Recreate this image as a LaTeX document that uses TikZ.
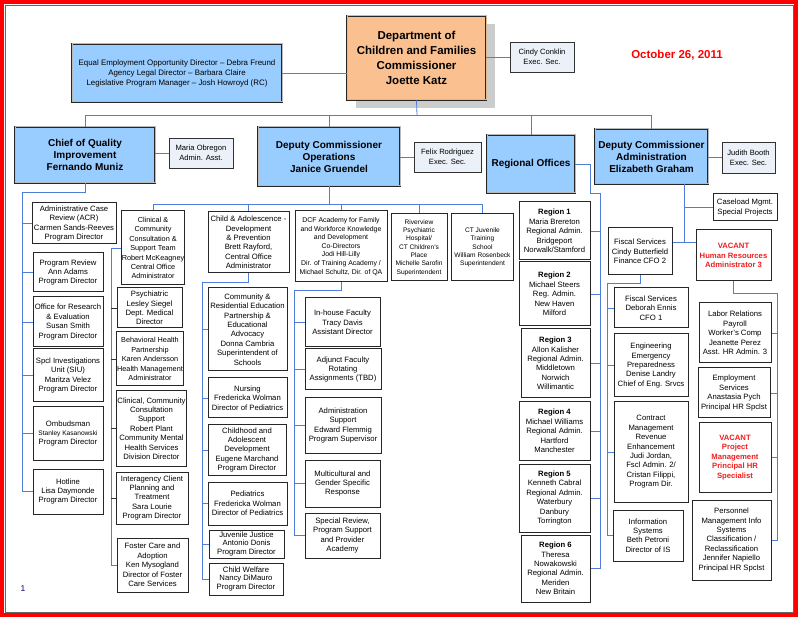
\documentclass[tikz,border=0pt]{standalone}
\usepackage{fontspec}
\setmainfont{Liberation Sans}
\usetikzlibrary{shadows}
\definecolor{hdblue}{RGB}{153,204,255}
\definecolor{peach}{RGB}{250,192,144}
\definecolor{secfill}{RGB}{236,240,248}
\definecolor{lnblue}{RGB}{80,125,215}
\definecolor{vacred}{RGB}{240,30,30}
\tikzset{
  hd/.style={draw=black!85, double=gray!55, double distance=1pt, line width=0.6pt, fill=hdblue, align=center, inner sep=1pt, font=\fontsize{10}{12}\selectfont\bfseries},
  sec/.style={draw=black!80, line width=0.8pt, fill=secfill, align=center, inner sep=1pt, font=\fontsize{7.6}{10}\selectfont},
  bx/.style={draw=black!85, line width=1pt, fill=white, align=center, inner sep=0.5pt, font=\fontsize{7.7}{9.4}\selectfont},
  vac/.style={text=vacred, font=\fontsize{7.7}{9.4}\selectfont\bfseries},
  sz/.style 2 args={minimum width=#1, minimum height=#2},
  ln/.style={draw=lnblue, line width=0.8pt},
  tk/.style={draw=black!80, line width=0.8pt}
}

\begin{document}
\begin{tikzpicture}[x=1pt, y=-1pt]
    \useasboundingbox (0,0) rectangle (798,617);
    \draw[red, line width=4pt] (2,2) rectangle (796,615);
    \draw[black!60, line width=0.6pt] (5,5) rectangle (793,612);

    % ---- Commissioner ----
    \node[hd, fill=peach, double=brown!55, sz={139}{84}, font=\fontsize{11.5}{15}\selectfont\bfseries,
          general shadow={fill=gray!40, shadow xshift=9pt, shadow yshift=-8pt}] (comm) at (416.5,58)
          {Department of\\Children and Families\\Commissioner\\Joette Katz};
    \node[hd, sz={210}{58}, font=\fontsize{7.9}{10}\selectfont] (eeo) at (177,73)
          {Equal Employment Opportunity Director -- Debra Freund\\Agency Legal Director -- Barbara Claire\\Legislative Program Manager -- Josh Howroyd (RC)};
    \node[sec, sz={64}{30}] (cindy) at (542,57) {Cindy Conklin\\Exec. Sec.};
    \node[text=red, font=\fontsize{11.5}{13}\selectfont\bfseries] (date) at (677,55) {October 26, 2011};
    \draw[ln] (eeo.east) -- (eeo.east -| comm.west);
    \draw[ln] (cindy.west) -- (cindy.west -| comm.east);

    % ---- Second row ----
    \node[hd, sz={140}{56}] (qual) at (85,155) {Chief of Quality\\Improvement\\Fernando Muniz};
    \node[sec, sz={64}{30}] (maria) at (201,153) {Maria Obregon\\Admin. Asst.};
    \node[hd, sz={142}{59}] (ops) at (329,156.5) {Deputy Commissioner\\Operations\\Janice Gruendel};
    \node[sec, sz={67}{30}] (felix) at (447.5,157) {Felix Rodriguez\\Exec. Sec.};
    \node[hd, sz={88}{58}] (reg) at (531,164) {Regional Offices};
    \node[hd, sz={113}{55}] (adm) at (651.5,156.5) {Deputy Commissioner\\Administration\\Elizabeth Graham};
    \node[sec, sz={53}{31}] (judith) at (748.5,157.5) {Judith Booth\\Exec. Sec.};
    \coordinate (tb) at (417,115);
    \draw[ln] (comm.south) -- (tb);
    \foreach \n in {qual,ops,reg,adm} \draw[ln] (tb) -| (\n.north);
    \draw[ln] (maria.west) -- (maria.west -| qual.east);
    \draw[ln] (felix.west) -- (felix.west -| ops.east);
    \draw[ln] (judith.west) -- (judith.west -| adm.east);

    % ---- Quality ----
    \node[bx, sz={84}{41}] (q1) at (74,223.5) {Administrative Case\\Review (ACR)\\Carmen Sands-Reeves\\Program Director};
    \node[bx, sz={70}{39}] (q2) at (68,272.5) {Program Review\\Ann Adams\\Program Director};
    \node[bx, sz={70}{50}] (q3) at (68,322) {Office for Research\\\& Evaluation\\Susan Smith\\Program Director};
    \node[bx, sz={70}{53}] (q4) at (68,375.5) {Spcl Investigations\\Unit (SIU)\\Maritza Velez\\Program Director};
    \node[bx, sz={70}{53}] (q5) at (68,433.5) {Ombudsman\\{\fontsize{6.6}{9.4}\selectfont Stanley Kasanowski}\\Program Director};
    \node[bx, sz={70}{45}] (q6) at (68,491.5) {Hotline\\Lisa Daymonde\\Program Director};
    \coordinate (qb) at (22,192);
    \draw[ln] (qual.south) |- (qb) |- (q6.west);
    \foreach \n in {q1,q2,q3,q4,q5} \draw[ln] (qb |- \n.west) -- (\n.west);

    % ---- Operations ----
    \node[bx, sz={62}{74}, font=\fontsize{7.3}{9.4}\selectfont] (c0) at (153,248) {Clinical \&\\Community\\Consultation \&\\Support Team\\Robert McKeagney\\Central Office\\Administrator};
    \node[bx, sz={81}{61}] (d0) at (248.5,242.5) {Child \& Adolescence -\\Development\\\& Prevention\\Brett Rayford,\\Central Office\\Administrator};
    \node[bx, sz={92}{71}, font=\fontsize{6.9}{8.6}\selectfont] (f0) at (341,246.5) {DCF Academy for Family\\and Workforce Knowledge\\and Development\\Co-Directors\\Jodi Hill-Lilly\\Dir. of Training Academy /\\Michael Schultz, Dir. of QA};
    \node[bx, sz={56}{67}, font=\fontsize{6.6}{8.3}\selectfont] (riv) at (419,247.5) {Riverview\\Psychiatric\\Hospital/\\CT Children's\\Place\\Michelle Sarofin\\Superintendent};
    \node[bx, sz={62}{67}, font=\fontsize{6.6}{8.3}\selectfont] (ctj) at (482.5,247.5) {CT Juvenile\\Training\\School\\William Rosenbeck\\Superintendent};
    \coordinate (ob) at (329,204);
    \draw[ln] (ops.south) -- (ob);
    \foreach \n in {c0,d0,f0,riv,ctj} \draw[ln] (ob) -| (\n.north);

    % ---- Clinical ----
    \node[bx, sz={65}{40}] (c1) at (149.5,308) {Psychiatric\\Lesley Siegel\\Dept. Medical\\Director};
    \node[bx, sz={66}{54}, font=\fontsize{7.3}{9.4}\selectfont] (c2) at (150,359) {Behavioral Health\\Partnership\\Karen Andersson\\Health Management\\Administrator};
    \node[bx, sz={69}{75}] (c3) at (151.5,428.5) {Clinical, Community\\Consultation\\Support\\Robert Plant\\Community Mental\\Health Services\\Division Director};
    \node[bx, sz={72}{52}] (c4) at (152,498) {Interagency Client\\Planning and\\Treatment\\Sara Lourie\\Program Director};
    \node[bx, sz={71}{54}] (c5) at (152.5,565) {Foster Care and\\Adoption\\Ken Mysogland\\Director of Foster\\Care Services};
    \coordinate (cb) at (111,248);
    \draw[ln] (c0.west) -- (cb) |- (c5.west);
    \foreach \n in {c1,c2,c3,c4} \draw[tk] (cb |- \n.west) -- (\n.west);

    % ---- Child & Adolescence ----
    \node[bx, sz={79}{83}] (d1) at (247.5,329.5) {Community \&\\Residential Education\\Partnership \&\\Educational\\Advocacy\\Donna Cambria\\Superintendent of\\Schools};
    \node[bx, sz={79}{40}] (d2) at (247.5,398) {Nursing\\Fredericka Wolman\\Director of Pediatrics};
    \node[bx, sz={78}{50}] (d3) at (247,450) {Childhood and\\Adolescent\\Development\\Eugene Marchand\\Program Director};
    \node[bx, sz={79}{43}] (d4) at (247.5,503.5) {Pediatrics\\Fredericka Wolman\\Director of Pediatrics};
    \node[bx, sz={75}{28}, font=\fontsize{7.7}{8.6}\selectfont] (d5) at (246.5,544) {Juvenile Justice\\Antonio Donis\\Program Director};
    \node[bx, sz={74}{32}, font=\fontsize{7.7}{8.6}\selectfont] (d6) at (246,579) {Child Welfare\\Nancy DiMauro\\Program Director};
    \coordinate (db) at (202,282);
    \draw[ln] (d0.south) |- (db) |- (d6.west);
    \foreach \n in {d1,d2,d3,d4,d5} \draw[ln] (db |- \n.west) -- (\n.west);

    % ---- Academy ----
    \node[bx, sz={75}{49}] (f1) at (342.5,322.5) {In-house Faculty\\Tracy Davis\\Assistant Director};
    \node[bx, sz={76}{41}] (f2) at (343,369.5) {Adjunct Faculty\\Rotating\\Assignments (TBD)};
    \node[bx, sz={76}{55}] (f3) at (343,425.5) {Administration\\Support\\Edward Flemmig\\Program Supervisor};
    \node[bx, sz={75}{47}] (f4) at (342.5,483.5) {Multicultural and\\Gender Specific\\Response};
    \node[bx, sz={75}{45}] (f5) at (342.5,535.5) {Special Review,\\Program Support\\and Provider\\Academy};
    \coordinate (fb) at (294,290);
    \draw[ln] (f0.south) |- (fb) |- (f5.west);
    \foreach \n in {f1,f2,f3,f4} \draw[ln] (fb |- \n.west) -- (\n.west);

    % ---- Regions ----
    \node[bx, sz={71}{58}] (r1) at (554.5,231) {\textbf{Region 1}\\Maria Brereton\\Regional Admin.\\Bridgeport\\Norwalk/Stamford};
    \node[bx, sz={71}{64}] (r2) at (554.5,294) {\textbf{Region 2}\\Michael Steers\\Reg. Admin.\\New Haven\\Milford};
    \node[bx, sz={69}{69}] (r3) at (555.5,363.5) {\textbf{Region 3}\\Allon Kalisher\\Regional Admin.\\Middletown\\Norwich\\Willimantic};
    \node[bx, sz={71}{58}] (r4) at (554.5,431) {\textbf{Region 4}\\Michael Williams\\Regional Admin.\\Hartford\\Manchester};
    \node[bx, sz={71}{68}] (r5) at (554.5,498) {\textbf{Region 5}\\Kenneth Cabral\\Regional Admin.\\Waterbury\\Danbury\\Torrington};
    \node[bx, sz={69}{67}] (r6) at (555.5,568.5) {\textbf{Region 6}\\Theresa\\Nowakowski\\Regional Admin.\\Meriden\\New Britain};
    \coordinate (re) at (590,193);
    \coordinate (rb) at (600,193);
    \draw[ln] (reg.east) -| (re) -- (rb) |- (r6.east);
    \foreach \n in {r1,r2,r3,r4,r5} \draw[ln] (rb |- \n.east) -- (\n.east);

    % ---- Administration ----
    \node[bx, sz={64}{27}] (case) at (745,207.5) {Caseload Mgmt.\\Special Projects};
    \node[bx, vac, sz={75}{51}] (h0) at (733.5,255.5) {VACANT\\Human Resources\\Administrator 3};
    \node[bx, sz={64}{47}] (s0) at (640,251.5) {Fiscal Services\\Cindy Butterfield\\Finance CFO 2};
    \coordinate (ab) at (684,242);
    \draw[ln] (ab |- adm.south) -- (ab);
    \draw[ln] (ab |- case.west) -- (case.west);
    \draw[ln] (s0.east |- ab) -- (h0.west |- ab);

    % ---- Fiscal ----
    \node[bx, sz={74}{40}] (s1) at (651,308) {Fiscal Services\\Deborah Ennis\\CFO 1};
    \node[bx, sz={74}{63}] (s2) at (651,365.5) {Engineering\\Emergency\\Preparedness\\Denise Landry\\Chief of Eng. Srvcs};
    \node[bx, sz={74}{100}] (s3) at (651,452) {Contract\\Management\\Revenue\\Enhancement\\Judi Jordan,\\Fscl Admin. 2/\\Cristan Filippi,\\Program Dir.};
    \node[bx, sz={70}{51}] (s4) at (648,535.5) {Information\\Systems\\Beth Petroni\\Director of IS};
    \coordinate (sb) at (607,283);
    \draw[ln] (s0.south) |- (sb) |- (s4.west);
    \foreach \n in {s1,s2,s3} \draw[ln] (sb |- \n.west) -- (\n.west);

    % ---- Human Resources ----
    \node[bx, sz={72}{60}] (h1) at (735,333) {Labor Relations\\Payroll\\Worker's Comp\\Jeanette Perez\\Asst. HR Admin. 3};
    \node[bx, sz={72}{50}] (h2) at (734,393) {Employment\\Services\\Anastasia Pych\\Principal HR Spclst};
    \node[bx, vac, sz={72}{69}] (h3) at (735,457.5) {VACANT\\Project\\Management\\Principal HR\\Specialist};
    \node[bx, sz={79}{80}] (h4) at (731.5,540) {Personnel\\Management Info\\Systems\\Classification /\\Reclassification\\Jennifer Napiello\\Principal HR Spclst};
    \coordinate (hb) at (777,293);
    \draw[ln] (h0.south) |- (hb) |- (h4.east);
    \foreach \n in {h1,h2,h3} \draw[ln] (hb |- \n.east) -- (\n.east);

    \node[text=blue!50!black, font=\fontsize{8.5}{10}\selectfont] (pg) at (23,589) {1};
\end{tikzpicture}
\end{document}
